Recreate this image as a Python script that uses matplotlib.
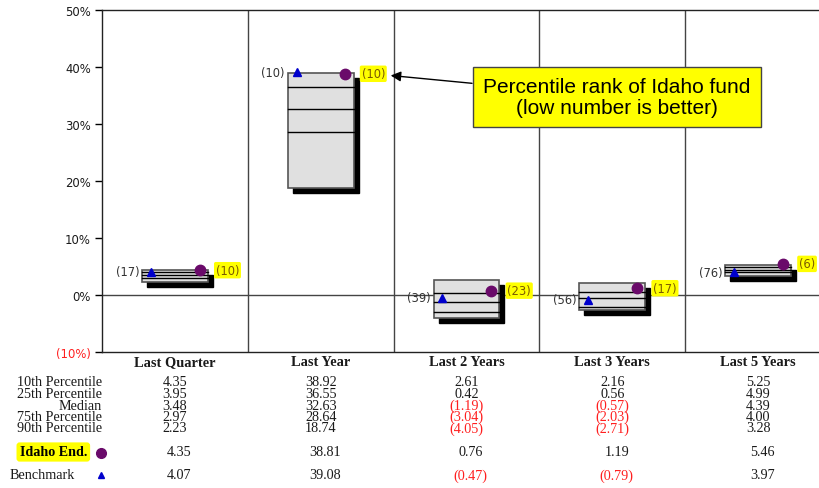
import numpy as np
import matplotlib.pyplot as plt
from matplotlib.patches import Rectangle
from matplotlib.transforms import ScaledTranslation, blended_transform_factory

periods = ['Last Quarter', 'Last Year', 'Last 2 Years', 'Last 3 Years', 'Last 5 Years']
p10 = [4.35, 38.92, 2.61, 2.16, 5.25]
p25 = [3.95, 36.55, 0.42, 0.56, 4.99]
median = [3.48, 32.63, -1.19, -0.57, 4.39]
p75 = [2.97, 28.64, -3.04, -2.03, 4.00]
p90 = [2.23, 18.74, -4.05, -2.71, 3.28]
idaho = [4.35, 38.81, 0.76, 1.19, 5.46]
bench = [4.07, 39.08, -0.47, -0.79, 3.97]
idaho_rank = [10, 10, 23, 17, 6]
bench_rank = [17, 10, 39, 56, 76]
row_names = ['10th Percentile', '25th Percentile', 'Median', '75th Percentile', '90th Percentile']
yticks = [-10, 0, 10, 20, 30, 40, 50]

TXT = '#1a1a1a'
RED = '#ff2020'
PURPLE = '#6a0a6a'
BLUE = '#0000cc'
SERIF = 'Liberation Serif'
FS = 10.2

fig = plt.figure(figsize=(8.2, 4.89), dpi=100)
ax = fig.add_axes([102 / 820, 136 / 489, 729 / 820, 342 / 489])
ax.set_xlim(0, 5)
ax.set_ylim(-10, 50)

for s in ['left', 'top', 'bottom']:
    ax.spines[s].set_linewidth(1.0)
    ax.spines[s].set_color('#222222')
ax.spines['right'].set_visible(False)

ax.set_yticks(yticks)
ax.set_yticklabels([f'({-t}%)' if t < 0 else f'{t}%' for t in yticks], fontsize=8.4,
                   family='DejaVu Sans')
for lbl, t in zip(ax.get_yticklabels(), yticks):
    lbl.set_color(RED if t < 0 else TXT)
ax.tick_params(axis='y', length=5, width=1, direction='out', pad=3)

ax.set_xticks(np.arange(len(periods)) + 0.5)
ax.set_xticklabels(periods, family=SERIF, fontweight='bold', fontsize=10.4, color=TXT)
ax.tick_params(axis='x', length=0, pad=2.5)

# group separators and zero line
for i in range(1, len(periods)):
    ax.axvline(i, color='#444444', lw=1.0)
ax.axhline(0, color='#444444', lw=1.0)

shadow = ax.transData + ScaledTranslation(0.05, -0.05, fig.dpi_scale_trans)
half = 0.225
for i in range(len(periods)):
    c = i + 0.5
    h = p10[i] - p90[i]
    ax.add_patch(Rectangle((c - half, p90[i]), 2 * half, h, transform=shadow,
                           facecolor='black', edgecolor='black', lw=1, zorder=2))
    ax.add_patch(Rectangle((c - half, p90[i]), 2 * half, h, facecolor='#e0e0e0',
                           edgecolor='#555555', lw=1.2, zorder=3))
    for v in (p25[i], median[i], p75[i]):
        ax.plot([c - half, c + half], [v, v], color='black', lw=1.0, zorder=4)
    ax.plot(c - half + 0.06, bench[i], marker='^', color=BLUE, ms=5.5, zorder=5)
    ax.plot(c + half - 0.055, idaho[i], marker='o', color=PURPLE, ms=7.5, zorder=5)
    ax.text(c - half - 0.02, bench[i], f'({bench_rank[i]})', ha='right', va='center',
            fontsize=8.3, color='#333333', zorder=5)
    ax.text(c + half + 0.055, idaho[i], f'({idaho_rank[i]})', ha='left', va='center',
            fontsize=8.3, color='#7a5a00', zorder=5,
            bbox=dict(boxstyle='round,pad=0.15', fc='#ffff00', ec='none'))

ax.annotate('Percentile rank of Idaho fund\n(low number is better)',
            xy=(1.98, idaho[1] - 0.3), xytext=(3.53, 34.7),
            textcoords='data', ha='center', va='center', fontsize=15,
            family='Liberation Sans', color='black', linespacing=1.1,
            bbox=dict(boxstyle='square,pad=0.5', fc='#ffff00', ec='#444444', lw=1),
            arrowprops=dict(arrowstyle='-|>', color='black', lw=1,
                            mutation_scale=15, shrinkA=0, shrinkB=0),
            zorder=6)

# statistics table under the plot
tr = blended_transform_factory(ax.transData, fig.transFigure)
def fy(py):
    return 1 - py / 489

def fmt(v):
    return (f'({-v:.2f})', RED) if v < 0 else (f'{v:.2f}', TXT)

row_y = [383, 394.5, 406, 417.5, 429]
for name, vals, py in zip(row_names, [p10, p25, median, p75, p90], row_y):
    fig.text(102 / 820, fy(py), name, ha='right', va='center', family=SERIF,
             fontsize=FS, color=TXT)
    for i, v in enumerate(vals):
        s, col = fmt(v)
        ax.text(i + 0.5, fy(py), s, transform=tr, ha='center', va='center',
                family=SERIF, fontsize=FS, color=col)

fig.text(87 / 820, fy(453), 'Idaho End.', ha='right', va='center', family=SERIF,
         fontsize=FS, fontweight='bold', color='black',
         bbox=dict(boxstyle='round,pad=0.22', fc='#ffff00', ec='none'))
fig.text(10 / 820, fy(476), 'Benchmark', ha='left', va='center', family=SERIF,
         fontsize=FS, color=TXT)
ax.plot(-0.005, fy(454), marker='o', color=PURPLE, ms=7, transform=tr, clip_on=False)
ax.plot(-0.005, fy(476), marker='^', color=BLUE, ms=5, transform=tr, clip_on=False)

for i in range(len(periods)):
    s, col = fmt(idaho[i])
    ax.text(i + 0.53, fy(453), s, transform=tr, ha='center', va='center',
            family=SERIF, fontsize=FS, color=col)
    s, col = fmt(bench[i])
    ax.text(i + 0.53, fy(476), s, transform=tr, ha='center', va='center',
            family=SERIF, fontsize=FS, color=col)

fig.savefig('out.png', dpi=100)
